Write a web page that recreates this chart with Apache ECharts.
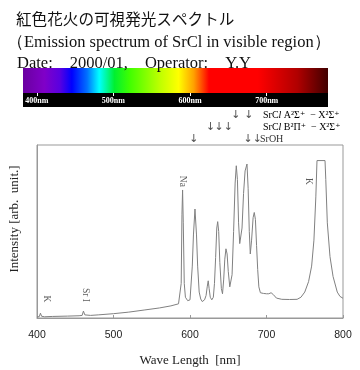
<!DOCTYPE html>
<html><head><meta charset="utf-8">
<script src="https://cdn.jsdelivr.net/npm/echarts@6/dist/echarts.min.js"></script>
<style>html,body{margin:0;padding:0;background:#fff}#c{width:360px;height:370px}</style>
</head><body><div id="c"></div>
<script>
// Spectrum: wavelength (nm) and intensity (arb. unit, 0-100 scale)
const wavelengths = [400,403,404.5,406,410,420,440,455,459,460.7,462.5,470,480,500,520,540,560,575,585,587.5,588.5,589.5,590.3,591.2,592.5,594,597,600,603,604.5,606.5,608.5,610,612,614,616,619,621,622.5,623.8,625,626.5,628.5,630.5,632,633.5,635,636.2,637.5,639,641,642.5,644,645.5,647,648.5,650,652,654,655,657,659,660.5,662,663.5,665,666.5,668,670,672,674.5,676,677.5,678.8,680.5,682.5,684,685.5,687,688.5,690,692,696,700,703,706,709,713,720,730,740,745,750,755,759,762,764.5,766,776.5,777.5,779.5,783,787,792.5,796,800];
const intensities = [0.6,0.8,2.8,1.0,0.7,0.9,1.1,1.3,1.5,4.0,1.8,1.5,1.8,2.5,3.4,4.6,5.8,7.0,8.2,9,20,60,74,55,20,12,10,10.5,30,48,63,48,30,15,11,9.5,10.5,13,18,21.5,17,12,10.5,12,20,35,52,55.7,50,32,17,14,22,34,40,37,27,18,17,25,50,78,88,80,55,43,42,52,72,85,89,75,50,37,45,58,61,57,42,28,18,14.6,14.2,14.0,14,14.6,13.5,11.5,10.8,10.7,10.8,12,15,21,30,45,70,91,91,80,55,35.5,24,15,12.5,11.4];
const xTicks = [400,500,600,700,800];
const bandTicks = [400,500,600,700];
const peakNames = ['K','Sr I','Na','K'];
const peakWaves = [413,463,590,755];
const peakLevels = [11,13.3,79,79];
const arrowWavesA = [660,677];
const arrowWavesB = [627,638,650];
const arrowWavesOH = [605,676,688];
const titleLines = ['紅色花火の可視発光スペクトル','（Emission spectrum of SrCl in visible region）','Date:　2000/01,　Operator:　Y.Y'];

const serif = '"Liberation Serif","DejaVu Serif",serif';
const chart = echarts.init(document.getElementById('c'));
const spectrum = wavelengths.map((w,i)=>[w,intensities[i]]);
const arrowData = [].concat(
  arrowWavesA.map(w=>[w,1]), arrowWavesB.map(w=>[w,2]), arrowWavesOH.map(w=>[w,3]));
const peakData = peakNames.map((n,i)=>({value:[peakWaves[i],peakLevels[i]], name:n}));

chart.setOption({
  animation:false,
  backgroundColor:'#fff',
  title:[
    {text:titleLines[0], left:11, top:6, textStyle:{fontFamily:'"Noto Sans CJK JP",sans-serif', fontSize:15.6, fontWeight:'normal', color:'#111'}},
    {text:titleLines[1], left:2, top:29, textStyle:{fontFamily:serif, fontSize:16.5, fontWeight:'normal', color:'#111'}},
    {text:titleLines[2], left:12, top:50, textStyle:{fontFamily:serif, fontSize:16.5, fontWeight:'normal', color:'#111'}}
  ],
  grid:[
    {left:37, right:17, top:145, bottom:52, show:true, borderColor:'#999', borderWidth:1, backgroundColor:'transparent'},
    {left:23, width:305, top:68, height:25, show:true, borderWidth:0,
     backgroundColor:{type:'linear',x:0,y:0,x2:1,y2:0,colorStops:[
       {offset:0,color:'#6a00a0'},{offset:0.07,color:'#8000c8'},{offset:0.12,color:'#5a00e0'},
       {offset:0.16,color:'#0000ff'},{offset:0.21,color:'#0070ff'},{offset:0.25,color:'#00ffff'},
       {offset:0.30,color:'#00f030'},{offset:0.35,color:'#40ff00'},{offset:0.45,color:'#c0ff00'},
       {offset:0.51,color:'#ffff00'},{offset:0.56,color:'#ffa000'},{offset:0.61,color:'#ff0000'},
       {offset:0.77,color:'#ff0000'},{offset:0.90,color:'#b00000'},{offset:1,color:'#400000'}]}},
    {left:37, right:17, top:109, height:36, show:false}
  ],
  xAxis:[
    {type:'value', gridIndex:0, min:400, max:800, interval:100,
     axisLine:{lineStyle:{color:'#999'}}, axisTick:{inside:true, length:3, lineStyle:{color:'#999'}},
     splitLine:{show:false},
     axisLabel:{color:'#222', fontFamily:'"Liberation Sans",Arial,sans-serif', fontSize:10.5, margin:12},
     name:'Wave Length  [nm]', nameLocation:'middle', nameGap:36,
     nameTextStyle:{fontFamily:serif, fontSize:13, color:'#222'}},
    {type:'value', gridIndex:1, min:382, max:780, z:10,
     axisLine:{show:false}, splitLine:{show:false},
     axisTick:{customValues:bandTicks, length:3, lineStyle:{color:'#fff'}},
     axisLabel:{customValues:bandTicks, formatter:'{value}nm', color:'#fff', fontSize:8, fontWeight:'bold', fontFamily:serif, margin:4}},
    {type:'value', gridIndex:2, min:400, max:800, show:false}
  ],
  yAxis:[
    {type:'value', gridIndex:0, min:0, max:100, axisLine:{lineStyle:{color:'#999'}}, axisTick:{show:false}, axisLabel:{show:false}, splitLine:{show:false}},
    {type:'value', gridIndex:1, min:0, max:1, show:false},
    {type:'value', gridIndex:2, min:0.5, max:3.5, inverse:true, show:false}
  ],
  graphic:[
    {type:'rect', z:-5, shape:{x:23, y:93, width:305, height:14}, style:{fill:'#000'}},
    {type:'text', x:15, y:219, rotation:Math.PI/2, style:{text:'Intensity [arb.  unit.]', fontFamily:serif, fontSize:13, fill:'#222', align:'center', verticalAlign:'middle'}},
    {type:'text', x:263, y:115, style:{text:'{n|SrC}{i|l}{n| A²Σ⁺  − X²Σ⁺}', verticalAlign:'middle', rich:{n:{fontFamily:serif,fontSize:10,color:'#333'}, i:{fontFamily:serif,fontSize:10,fontStyle:'italic',color:'#333'}}}},
    {type:'text', x:263, y:127, style:{text:'{n|SrC}{i|l}{n| B²Π⁺  − X²Σ⁺}', verticalAlign:'middle', rich:{n:{fontFamily:serif,fontSize:10,color:'#333'}, i:{fontFamily:serif,fontSize:10,fontStyle:'italic',color:'#333'}}}},
    {type:'text', x:260, y:139, style:{text:'SrOH', fontFamily:serif, fontSize:10, fill:'#333', verticalAlign:'middle'}}
  ],
  series:[
    {type:'line', xAxisIndex:0, yAxisIndex:0, data:spectrum, showSymbol:false, symbol:'none', lineStyle:{color:'#808080', width:1}},
    {type:'scatter', xAxisIndex:0, yAxisIndex:0, data:peakData, symbolSize:1, itemStyle:{color:'rgba(0,0,0,0)'},
     label:{show:true, formatter:p=>p.name, rotate:-90, position:'inside', fontFamily:serif, fontSize:9.5, color:'#333'}},
    {type:'scatter', xAxisIndex:2, yAxisIndex:2, data:arrowData, symbolSize:1, itemStyle:{color:'rgba(0,0,0,0)'},
     label:{show:true, formatter:'↓', position:'inside', fontSize:11, color:'#222', fontFamily:'"DejaVu Sans",sans-serif'}}
  ]
});
</script></body></html>
